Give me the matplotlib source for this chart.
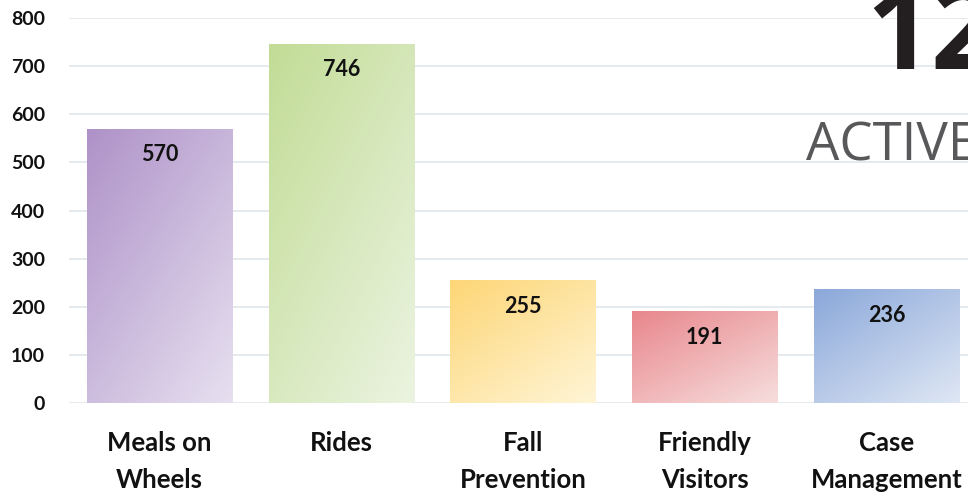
import numpy as np
import matplotlib
matplotlib.use("Agg")
import matplotlib.pyplot as plt
from matplotlib.colors import LinearSegmentedColormap

categories = ["Meals on\nWheels", "Rides", "Fall\nPrevention", "Friendly\nVisitors", "Case\nManagement"]
values = [570, 746, 255, 191, 236]
yticks = [0, 100, 200, 300, 400, 500, 600, 700, 800]
dark_colors = ["#ae92c8", "#c2dc96", "#fdd676", "#e8878c", "#8ba8da"]
light_colors = ["#e7e0f0", "#ebf4e1", "#fff5d6", "#f7dede", "#dfe7f4"]

W, H = 968, 495
fig = plt.figure(figsize=(W / 100, H / 100), dpi=100)
fig.patch.set_facecolor("white")
ax = fig.add_axes([68.75 / W, 92 / H, 908.5 / W, 385 / H])
ax.set_facecolor("white")

x = np.arange(len(categories))
bars = ax.bar(x, values, width=0.8, color="none", edgecolor="none", zorder=2)

# diagonal gradient: top-left dark -> bottom-right light
gy, gx = np.mgrid[0:1:200j, 0:1:200j]
t = (gx * 0.45 + gy * 0.55)
for b, c0, c1 in zip(bars, dark_colors, light_colors):
    cmap = LinearSegmentedColormap.from_list("g", [c0, c1])
    x0, y0 = b.get_x(), b.get_y()
    w, h = b.get_width(), b.get_height()
    im = ax.imshow(t, cmap=cmap, extent=[x0, x0 + w, y0, y0 + h], origin="upper",
                   aspect="auto", zorder=2, interpolation="bilinear")
    im.set_clip_path(b)

for xi, v in zip(x, values):
    ax.annotate(str(v), (xi, v), xytext=(0, -26), textcoords="offset pixels",
                ha="center", va="center", fontsize=15.5, fontweight="bold",
                family=["Lato", "DejaVu Sans"], color="#111111", zorder=4)

ax.set_xlim(-0.5, len(categories) - 0.5)
ax.set_ylim(0, 800)
ax.set_yticks(yticks)
ax.set_yticklabels([str(v) for v in yticks], fontsize=14, fontweight="bold",
                   family=["Lato", "DejaVu Sans"], color="#111111")
ax.set_xticks(x)
ax.set_xticklabels(categories, fontsize=18.5, fontweight="bold",
                   family=["Lato", "DejaVu Sans"], color="#111111", linespacing=1.65)
ax.tick_params(axis="y", length=0, pad=17)
ax.tick_params(axis="x", length=0, pad=20)
ax.grid(axis="y", color="#e3e8ee", linewidth=1.3, zorder=0)
ax.set_axisbelow(True)
for s in ax.spines.values():
    s.set_visible(False)

fig.text(866 / W, 1 - 69 / H, "12", fontsize=82, fontweight="bold",
         family=["Open Sans", "DejaVu Sans"], color="#231f20", ha="left", va="baseline", zorder=10)
fig.text(806 / W, 1 - 160 / H, "ACTIVE", fontsize=38,
         family=["Open Sans", "DejaVu Sans"], color="#58585a", ha="left", va="baseline", zorder=10)

fig.savefig("out.png", dpi=100, facecolor="white")
